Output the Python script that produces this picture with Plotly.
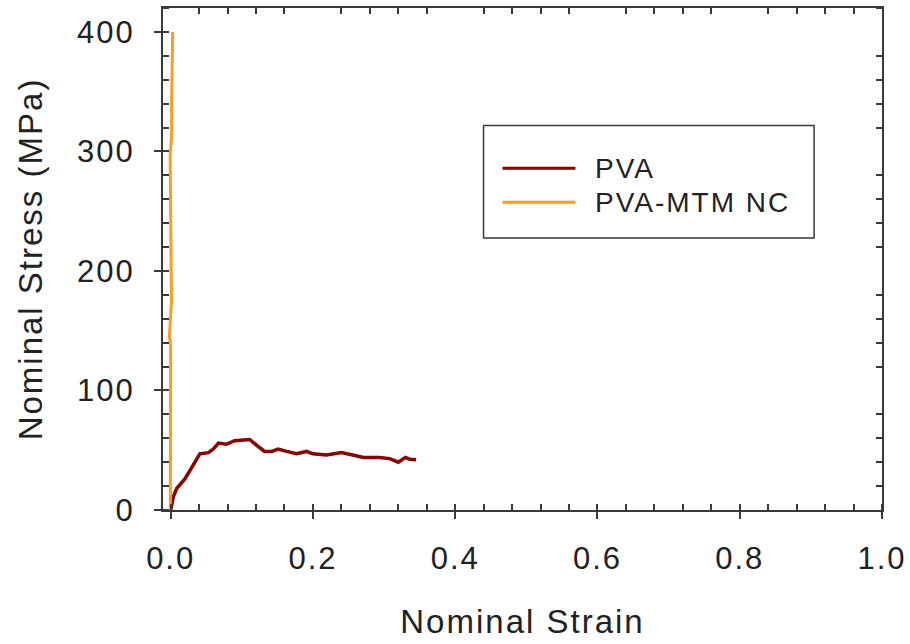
import plotly.graph_objects as go

# PVA curve (strain, stress in MPa)
pva_strain = [0.0, 0.0037, 0.0084, 0.020, 0.027, 0.034, 0.041, 0.053, 0.060, 0.067, 0.078,
              0.090, 0.111, 0.121, 0.132, 0.142, 0.151, 0.163, 0.177, 0.191, 0.200, 0.219,
              0.240, 0.256, 0.271, 0.294, 0.308, 0.320, 0.330, 0.336, 0.345]
pva_stress = [0, 11, 18, 26, 33, 40, 47, 48, 51, 56, 55,
              58, 59, 54, 49, 49, 51, 49, 47, 49, 47, 46,
              48, 46, 44, 44, 43, 40, 44, 42.5, 42]

# PVA-MTM NC curve
nc_strain = [-0.0005, -0.0003, 0.0, 0.0003, 0.0, -0.0018, -0.0005, 0.0012, 0.0006,
             0.0004, -0.0005, -0.0008, 0.0014, 0.0014, 0.0025, 0.0028]
nc_stress = [0, 25, 58, 92, 137, 146, 158, 175, 202,
             258, 281, 296, 314, 342, 375, 400]

x_ticks = [0.0, 0.2, 0.4, 0.6, 0.8, 1.0]
y_ticks = [0, 100, 200, 300, 400]
series_names = ["PVA", "PVA-MTM NC"]
colors = ["#8B0000", "#FF9A22"]

FONT = "Liberation Sans, Arial, sans-serif"
AX = "#3a3a3a"
TXT = "#222222"

fig = go.Figure()
fig.add_trace(go.Scatter(x=pva_strain, y=pva_stress, mode="lines", name=series_names[0],
                         line=dict(color=colors[0], width=3.5), showlegend=False))
fig.add_trace(go.Scatter(x=nc_strain, y=nc_stress, mode="lines", name=series_names[1],
                         line=dict(color=colors[1], width=3), showlegend=False))
# invisible trace to activate mirrored minor-tick axes
fig.add_trace(go.Scatter(x=[0.5], y=[200], xaxis="x2", yaxis="y2", mode="markers",
                         marker=dict(opacity=0), showlegend=False, hoverinfo="skip"))

fig.update_layout(
    width=910, height=644,
    margin=dict(l=163, r=27, t=6, b=134),
    paper_bgcolor="white", plot_bgcolor="white",
    font=dict(family=FONT, color=TXT, size=30),
    xaxis=dict(range=[-0.0108, 1.0], tickvals=x_ticks, ticktext=[f"{v:.1f}" for v in x_ticks],
               ticks="outside", ticklen=7, tickwidth=2, tickcolor=AX,
               showline=True, linecolor=AX, linewidth=2, mirror=True,
               showgrid=False, zeroline=False,
               tickfont=dict(size=31), ticklabelstandoff=13,
               minor=dict(ticks="inside", ticklen=6, tickwidth=2, tickcolor=AX,
                          tick0=0, dtick=0.04, showgrid=False),
               title=dict(text="Nominal Strain", font=dict(size=33), standoff=35)),
    yaxis=dict(range=[0, 420], tickvals=y_ticks,
               ticks="outside", ticklen=7, tickwidth=2, tickcolor=AX,
               showline=True, linecolor=AX, linewidth=2, mirror=True,
               showgrid=False, zeroline=False,
               tickfont=dict(size=31), ticklabelstandoff=13,
               minor=dict(ticks="inside", ticklen=6, tickwidth=2, tickcolor=AX,
                          tick0=0, dtick=20, showgrid=False),
               title=dict(text="Nominal Stress (MPa)", font=dict(size=33), standoff=31)),
    xaxis2=dict(overlaying="x", matches="x", side="top", anchor="y",
                showticklabels=False, ticks="", showline=False, showgrid=False, zeroline=False,
                minor=dict(ticks="inside", ticklen=6, tickwidth=2, tickcolor=AX,
                           tick0=0, dtick=0.04, showgrid=False)),
    yaxis2=dict(overlaying="y", matches="y", side="right", anchor="x",
                showticklabels=False, ticks="", showline=False, showgrid=False, zeroline=False,
                minor=dict(ticks="inside", ticklen=6, tickwidth=2, tickcolor=AX,
                           tick0=0, dtick=20, showgrid=False)),
)

# Legend box drawn in plot-paper coordinates
def px_x(p):
    return (p - 163) / 720.0

def px_y(p):
    return (510 - p) / 504.0

fig.add_shape(type="rect", xref="paper", yref="paper",
              x0=px_x(484), x1=px_x(815), y0=px_y(237), y1=px_y(124),
              line=dict(color=AX, width=1.5), fillcolor="white")
for i, (name, col) in enumerate(zip(series_names, colors)):
    yy = px_y(167 + 34 * i)
    fig.add_shape(type="line", xref="paper", yref="paper",
                  x0=px_x(503), x1=px_x(576), y0=yy, y1=yy,
                  line=dict(color=col, width=3))
    fig.add_annotation(xref="paper", yref="paper", x=px_x(594), y=yy,
                       text=name, showarrow=False, xanchor="left", yanchor="middle",
                       align="left",
                       font=dict(size=28, color=TXT, family=FONT))

post = """
document.body.style.margin='0';
document.body.style.padding='0';
document.querySelectorAll('.main-svg text').forEach(function(t){ t.style.letterSpacing='2px'; });
"""
fig.write_html("out.html", post_script=post, config={"displayModeBar": False})
